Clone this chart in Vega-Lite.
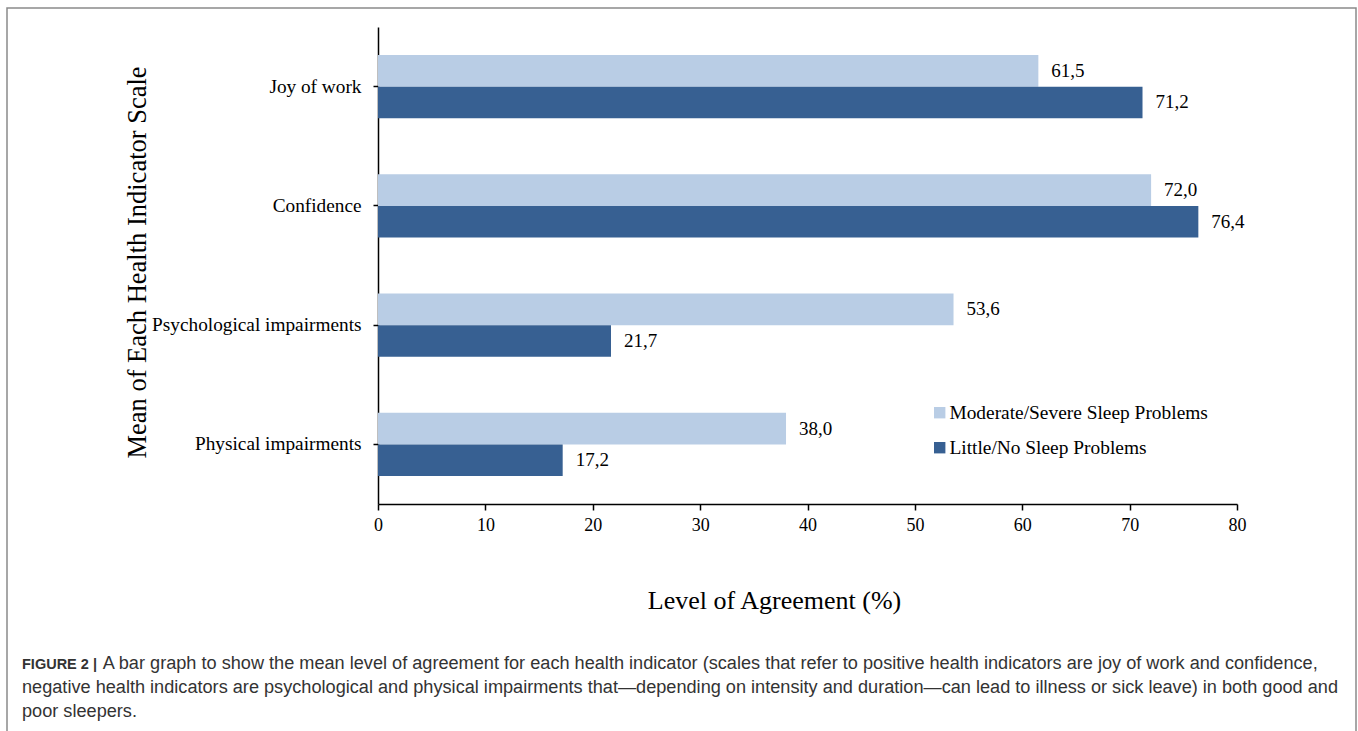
{
  "$schema": "https://vega.github.io/schema/vega-lite/v6.json",
  "width": 1349,
  "height": 740,
  "autosize": {"type": "none"},
  "padding": {"left": 7, "top": 8, "right": 2, "bottom": 0},
  "background": "white",
  "config": {
    "locale": {"number": {"decimal": ",", "thousands": ".", "grouping": [3], "currency": ["", " €"]}},
    "view": {"stroke": "#8a8a8a", "strokeWidth": 1.5},
    "font": "Liberation Serif"
  },
  "title": {
    "text": "FIGURE 2 |",
    "subtitle": [
      "\u200b\u00a0\u00a0\u00a0\u00a0\u00a0\u00a0\u00a0\u00a0\u00a0\u00a0\u00a0\u00a0\u00a0\u00a0\u00a0\u00a0A bar graph to show the mean level of agreement for each health indicator (scales that refer to positive health indicators are joy of work and confidence,",
      "negative health indicators are psychological and physical impairments that\u2014depending on intensity and duration\u2014can lead to illness or sick leave) in both good and",
      "poor sleepers."
    ],
    "orient": "bottom",
    "anchor": "start",
    "frame": "group",
    "offset": -90,
    "dx": 15,
    "baseline": "top",
    "font": "Liberation Sans",
    "fontSize": 14.5,
    "fontWeight": "bold",
    "color": "#333333",
    "subtitleFont": "Liberation Sans",
    "subtitleFontSize": 18.15,
    "subtitleColor": "#333333",
    "subtitleLineHeight": 24,
    "subtitlePadding": -17.5
  },
  "data": {
    "values": [
      {"indicator": "Joy of work", "group": "Moderate/Severe Sleep Problems", "pct": 61.5},
      {"indicator": "Joy of work", "group": "Little/No Sleep Problems", "pct": 71.2},
      {"indicator": "Confidence", "group": "Moderate/Severe Sleep Problems", "pct": 72.0},
      {"indicator": "Confidence", "group": "Little/No Sleep Problems", "pct": 76.4},
      {"indicator": "Psychological impairments", "group": "Moderate/Severe Sleep Problems", "pct": 53.6},
      {"indicator": "Psychological impairments", "group": "Little/No Sleep Problems", "pct": 21.7},
      {"indicator": "Physical impairments", "group": "Moderate/Severe Sleep Problems", "pct": 38.0},
      {"indicator": "Physical impairments", "group": "Little/No Sleep Problems", "pct": 17.2}
    ]
  },
  "encoding": {
    "y": {
      "field": "indicator",
      "type": "nominal",
      "sort": ["Joy of work", "Confidence", "Psychological impairments", "Physical impairments"],
      "scale": {"range": [19, 496], "paddingInner": 0, "paddingOuter": 0},
      "axis": {
        "orient": "left",
        "offset": -371,
        "grid": false,
        "domainColor": "black",
        "domainWidth": 1.5,
        "tickColor": "black",
        "tickWidth": 1.5,
        "tickSize": 5,
        "labelFont": "Liberation Serif",
        "labelFontSize": 19.3,
        "labelColor": "black",
        "labelPadding": 12,
        "labelLimit": 400,
        "title": "Mean of Each Health Indicator Scale",
        "titleFont": "Liberation Serif",
        "titleFontSize": 26.5,
        "titleFontWeight": "normal",
        "titleColor": "black",
        "titleAngle": -90,
        "titleBaseline": "middle",
        "titleAlign": "center",
        "titleX": -241,
        "titleY": 254
      }
    },
    "yOffset": {
      "field": "group",
      "sort": ["Moderate/Severe Sleep Problems", "Little/No Sleep Problems"],
      "scale": {"paddingInner": 0, "paddingOuter": 0.89}
    },
    "x": {
      "field": "pct",
      "type": "quantitative",
      "scale": {"domain": [0, 80], "range": [371, 1230], "nice": false, "zero": true},
      "axis": {
        "orient": "bottom",
        "offset": -244,
        "values": [0, 10, 20, 30, 40, 50, 60, 70, 80],
        "grid": false,
        "labelFlush": false,
        "domainColor": "black",
        "domainWidth": 1.5,
        "tickColor": "black",
        "tickWidth": 1.5,
        "tickSize": 6,
        "labelFont": "Liberation Serif",
        "labelFontSize": 18,
        "labelColor": "black",
        "labelPadding": 6,
        "title": "Level of Agreement (%)",
        "titleFont": "Liberation Serif",
        "titleFontSize": 26,
        "titleFontWeight": "normal",
        "titleColor": "black",
        "titleBaseline": "middle",
        "titleAlign": "center",
        "titleX": 767,
        "titleY": 96
      }
    }
  },
  "layer": [
    {
      "mark": {"type": "bar"},
      "encoding": {
        "color": {
          "field": "group",
          "type": "nominal",
          "scale": {
            "domain": ["Moderate/Severe Sleep Problems", "Little/No Sleep Problems"],
            "range": ["#B9CDE5", "#376092"]
          },
          "legend": {
            "orient": "none",
            "legendX": 923,
            "legendY": 395,
            "title": null,
            "padding": 0,
            "symbolType": "square",
            "symbolSize": 130,
            "symbolStrokeWidth": 0,
            "labelFont": "Liberation Serif",
            "labelFontSize": 19.4,
            "labelColor": "black",
            "labelOffset": 0,
            "labelLimit": 400,
            "rowPadding": 14
          }
        }
      }
    },
    {
      "mark": {"type": "text", "align": "left", "baseline": "middle", "dx": 13, "fontSize": 19, "font": "Liberation Serif", "color": "black"},
      "encoding": {
        "text": {"field": "pct", "type": "quantitative", "format": ".1f"}
      }
    }
  ]
}
